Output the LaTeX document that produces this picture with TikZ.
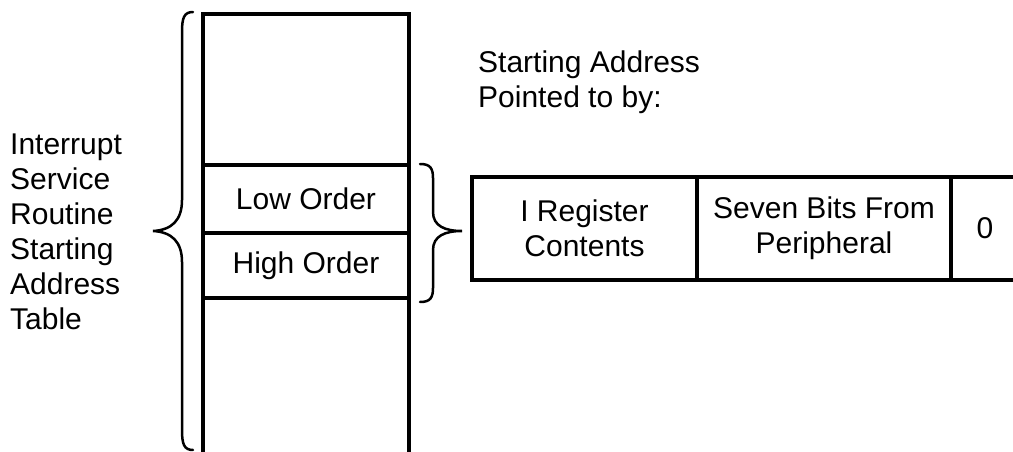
\documentclass[tikz,border=0pt]{standalone}
\usepackage{fontspec}
\setmainfont{Liberation Sans}
\usepackage{tikz}
\usetikzlibrary{positioning}
\newcommand{\cellfont}{\fontsize{30}{35}\selectfont}
\tikzstyle{slot} = [rectangle, minimum width=206pt, text centered, draw=black, line width=4.5pt, outer sep=0pt, inner sep=0pt, font=\cellfont]
\tikzstyle{field} = [rectangle, minimum height=103pt, text centered, align=center, draw=black, line width=4.5pt, outer sep=0pt, inner sep=0pt, font=\cellfont]
\tikzstyle{plaintext} = [align=left, inner sep=0pt, font=\cellfont]
\tikzstyle{brace} = [line width=2.5pt, line cap=round]

\begin{document}
\begin{tikzpicture}[x=1pt, y=-1pt]
\useasboundingbox (0,0) rectangle (1013,452);

% Nodes (address table)
\node (toprow) [slot, minimum height=151pt, anchor=north west] at (203,14) {};
\node (low) [slot, minimum height=68pt, below=0pt of toprow] {Low Order};
\node (high) [slot, minimum height=65pt, below=0pt of low] {High Order};
\node (bottomrow) [slot, minimum height=170pt, below=0pt of high] {};

% Nodes (address register)
\node (ireg) [field, minimum width=225pt, anchor=north west] at (472,177) {I Register\\Contents};
\node (seven) [field, minimum width=254pt, right=0pt of ireg] {Seven Bits From\\Peripheral};
\node (zero) [field, minimum width=68pt, right=0pt of seven] {0};

% Labels
\node (tablelabel) [plaintext, anchor=west] at (10,232) {Interrupt\\Service\\Routine\\Starting\\Address\\Table};
\node (pointed) [plaintext, anchor=west] at (478,82) {Starting Address\\Pointed to by:};

% Braces
\draw [brace] (193,12) .. controls (184,12) and (182,18) .. (182,32) -- (182,200)
  .. controls (182,220) and (172,230) .. (153,231)
  .. controls (172,232) and (182,242) .. (182,262) -- (182,430)
  .. controls (182,444) and (184,450) .. (193,450);
\draw [brace] (420,164) .. controls (430,164) and (433,168) .. (433,178) -- (433,212)
  .. controls (433,226) and (445,231) .. (462,231)
  .. controls (445,231) and (433,236) .. (433,250) -- (433,288)
  .. controls (433,298) and (430,302) .. (420,302);

\end{tikzpicture}
\end{document}
